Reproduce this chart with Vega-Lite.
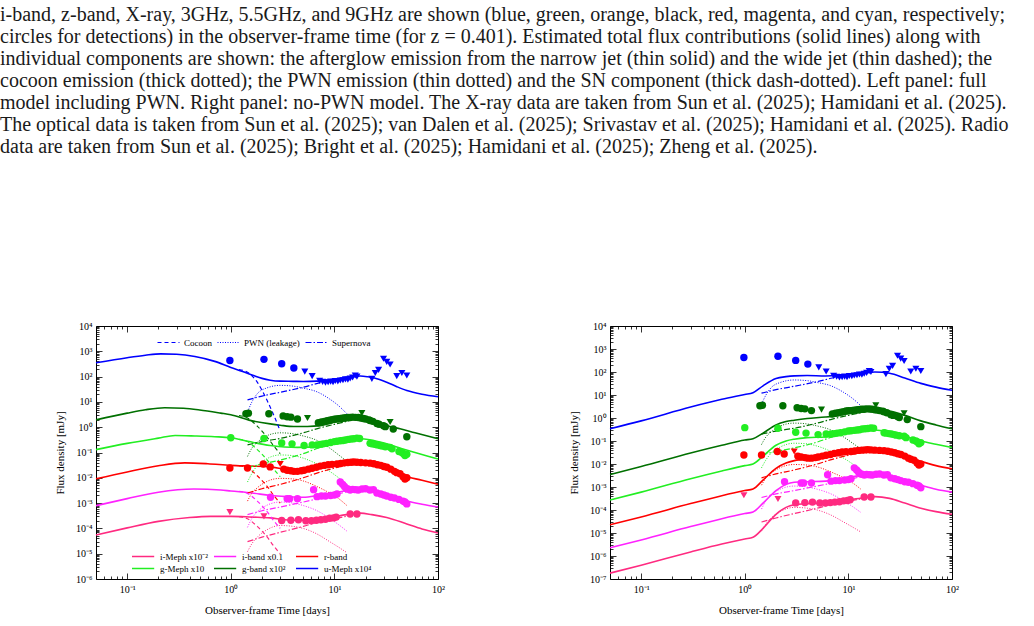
{
"$schema": "https://vega.github.io/schema/vega-lite/v6.json",
"background": "white",
"padding": {"left": 0, "top": 4, "right": 0, "bottom": 0},
"autosize": {"type": "pad"},
"title": {
 "text": [
  "i-band, z-band, X-ray, 3GHz, 5.5GHz, and 9GHz are shown (blue, green, orange, black, red, magenta, and cyan, respectively;",
  "circles for detections) in the observer-frame time (for z = 0.401). Estimated total flux contributions (solid lines) along with",
  "individual components are shown: the afterglow emission from the narrow jet (thin solid) and the wide jet (thin dashed); the",
  "cocoon emission (thick dotted); the PWN emission (thin dotted) and the SN component (thick dash-dotted). Left panel: full",
  "model including PWN. Right panel: no-PWN model. The X-ray data are taken from Sun et al. (2025); Hamidani et al. (2025).",
  "The optical data is taken from Sun et al. (2025); van Dalen et al. (2025); Srivastav et al. (2025); Hamidani et al. (2025). Radio",
  "data are taken from Sun et al. (2025); Bright et al. (2025); Hamidani et al. (2025); Zheng et al. (2025)."
 ],
 "anchor": "start", "frame": "bounds", "font": "Liberation Serif", "fontSize": 20, "fontWeight": "normal",
 "lineHeight": 22, "color": "#1a1a1a", "offset": 164, "dx": -54
},
"datasets": {
 "det": [
  {"t":0.98,"f":430,"b":"um"},{"t":2.09,"f":480,"b":"um"},{"t":3.1,"f":320,"b":"um"},{"t":4.06,"f":220,"b":"um"},
  {"t":1.40,"f":3.4,"b":"gb"},{"t":1.48,"f":3.6,"b":"gb"},{"t":2.33,"f":3.4,"b":"gb"},{"t":3.2,"f":2.8,"b":"gb"},{"t":3.5,"f":2.6,"b":"gb"},{"t":3.8,"f":2.5,"b":"gb"},{"t":4.4,"f":2.1,"b":"gb"},
  {"t":7.0,"f":1.5,"b":"gb"},{"t":7.5,"f":1.6,"b":"gb"},{"t":8.0,"f":1.7,"b":"gb"},{"t":8.5,"f":1.8,"b":"gb"},{"t":9.0,"f":1.9,"b":"gb"},{"t":9.5,"f":2.0,"b":"gb"},{"t":10,"f":2.05,"b":"gb"},{"t":10.5,"f":2.1,"b":"gb"},{"t":11,"f":2.15,"b":"gb"},{"t":11.5,"f":2.2,"b":"gb"},{"t":12,"f":2.25,"b":"gb"},{"t":12.5,"f":2.3,"b":"gb"},{"t":13,"f":2.35,"b":"gb"},{"t":13.5,"f":2.4,"b":"gb"},{"t":14.2,"f":2.4,"b":"gb"},{"t":15,"f":2.5,"b":"gb"},{"t":16,"f":2.45,"b":"gb"},{"t":17,"f":2.4,"b":"gb"},{"t":18,"f":2.3,"b":"gb"},{"t":19,"f":2.2,"b":"gb"},{"t":20,"f":2.1,"b":"gb"},{"t":21.5,"f":1.95,"b":"gb"},{"t":22.1,"f":1.85,"b":"gb"},{"t":23.5,"f":1.7,"b":"gb"},{"t":25.7,"f":1.4,"b":"gb"},{"t":27,"f":1.3,"b":"gb"},{"t":29.8,"f":1.15,"b":"gb"},{"t":31,"f":1.05,"b":"gb"},{"t":37,"f":0.85,"b":"gb"},{"t":50,"f":0.42,"b":"gb"},
  {"t":1.0,"f":0.38,"b":"gm"},{"t":2.09,"f":0.36,"b":"gm"},{"t":3.1,"f":0.24,"b":"gm"},{"t":3.9,"f":0.22,"b":"gm"},{"t":5.1,"f":0.19,"b":"gm"},{"t":6.1,"f":0.2,"b":"gm"},{"t":6.8,"f":0.2,"b":"gm"},{"t":7.3,"f":0.21,"b":"gm"},{"t":7.8,"f":0.22,"b":"gm"},{"t":8.4,"f":0.23,"b":"gm"},{"t":9.2,"f":0.25,"b":"gm"},{"t":10,"f":0.27,"b":"gm"},{"t":10.6,"f":0.28,"b":"gm"},{"t":11.4,"f":0.29,"b":"gm"},{"t":12.1,"f":0.3,"b":"gm"},{"t":12.8,"f":0.31,"b":"gm"},{"t":13.6,"f":0.33,"b":"gm"},{"t":14.5,"f":0.34,"b":"gm"},{"t":15.4,"f":0.35,"b":"gm"},{"t":16.5,"f":0.37,"b":"gm"},{"t":17.5,"f":0.36,"b":"gm"},{"t":22.1,"f":0.23,"b":"gm"},{"t":23,"f":0.22,"b":"gm"},{"t":24.5,"f":0.21,"b":"gm"},{"t":26,"f":0.2,"b":"gm"},{"t":27.6,"f":0.19,"b":"gm"},{"t":29,"f":0.18,"b":"gm"},{"t":31,"f":0.17,"b":"gm"},{"t":34.5,"f":0.16,"b":"gm"},{"t":36,"f":0.14,"b":"gm"},{"t":42,"f":0.11,"b":"gm"},{"t":44.8,"f":0.1,"b":"gm"},{"t":46.5,"f":0.09,"b":"gm"},{"t":48,"f":0.076,"b":"gm"},{"t":50,"f":0.085,"b":"gm"},
  {"t":0.98,"f":0.0245,"b":"r"},{"t":1.45,"f":0.0245,"b":"r"},{"t":2.06,"f":0.035,"b":"r"},{"t":2.4,"f":0.027,"b":"r"},{"t":3.25,"f":0.022,"b":"r"},{"t":3.5,"f":0.02,"b":"r"},{"t":3.8,"f":0.019,"b":"r"},{"t":4.06,"f":0.018,"b":"r"},{"t":4.4,"f":0.018,"b":"r"},{"t":4.8,"f":0.019,"b":"r"},{"t":5.1,"f":0.02,"b":"r"},{"t":5.6,"f":0.022,"b":"r"},{"t":6.1,"f":0.024,"b":"r"},{"t":6.7,"f":0.026,"b":"r"},{"t":7.3,"f":0.029,"b":"r"},{"t":8,"f":0.031,"b":"r"},{"t":8.7,"f":0.033,"b":"r"},{"t":9.5,"f":0.034,"b":"r"},{"t":10.6,"f":0.035,"b":"r"},{"t":11.5,"f":0.037,"b":"r"},{"t":12.5,"f":0.039,"b":"r"},{"t":13.5,"f":0.04,"b":"r"},{"t":14.5,"f":0.041,"b":"r"},{"t":15.4,"f":0.042,"b":"r"},{"t":16.5,"f":0.041,"b":"r"},{"t":18,"f":0.04,"b":"r"},{"t":20,"f":0.039,"b":"r"},{"t":22.1,"f":0.038,"b":"r"},{"t":24,"f":0.036,"b":"r"},{"t":26,"f":0.033,"b":"r"},{"t":28,"f":0.031,"b":"r"},{"t":30,"f":0.028,"b":"r"},{"t":32.1,"f":0.026,"b":"r"},{"t":35,"f":0.022,"b":"r"},{"t":38,"f":0.018,"b":"r"},{"t":40,"f":0.016,"b":"r"},{"t":43,"f":0.0145,"b":"r"},{"t":46,"f":0.011,"b":"r"},{"t":48,"f":0.009,"b":"r"},{"t":50,"f":0.01,"b":"r"},
  {"t":2.42,"f":0.0017,"b":"ib"},{"t":3.5,"f":0.0015,"b":"ib"},{"t":3.7,"f":0.0015,"b":"ib"},{"t":4.4,"f":0.0015,"b":"ib"},{"t":6.3,"f":0.0034,"b":"ib"},{"t":6.8,"f":0.0018,"b":"ib"},{"t":7.5,"f":0.0019,"b":"ib"},{"t":8.2,"f":0.0019,"b":"ib"},{"t":9.2,"f":0.002,"b":"ib"},{"t":10,"f":0.0021,"b":"ib"},{"t":10.6,"f":0.0023,"b":"ib"},{"t":11.4,"f":0.0068,"b":"ib"},{"t":12,"f":0.0055,"b":"ib"},{"t":12.5,"f":0.0045,"b":"ib"},{"t":13,"f":0.0038,"b":"ib"},{"t":13.5,"f":0.0036,"b":"ib"},{"t":14.2,"f":0.0033,"b":"ib"},{"t":15,"f":0.0035,"b":"ib"},{"t":16,"f":0.0034,"b":"ib"},{"t":17,"f":0.0033,"b":"ib"},{"t":18.5,"f":0.0036,"b":"ib"},{"t":20,"f":0.0037,"b":"ib"},{"t":22,"f":0.0033,"b":"ib"},{"t":23.8,"f":0.0034,"b":"ib"},{"t":25.7,"f":0.0025,"b":"ib"},{"t":28,"f":0.0023,"b":"ib"},{"t":30,"f":0.0021,"b":"ib"},{"t":32,"f":0.0019,"b":"ib"},{"t":35,"f":0.0017,"b":"ib"},{"t":38,"f":0.0016,"b":"ib"},{"t":42,"f":0.0014,"b":"ib"},{"t":46,"f":0.0012,"b":"ib"},{"t":48,"f":0.0011,"b":"ib"},{"t":50,"f":0.00093,"b":"ib"},
  {"t":3.1,"f":0.000204,"b":"im"},{"t":3.8,"f":0.00021,"b":"im"},{"t":4.5,"f":0.00022,"b":"im"},{"t":5.3,"f":0.0002,"b":"im"},{"t":6.0,"f":0.0002,"b":"im"},{"t":6.7,"f":0.00021,"b":"im"},{"t":7.4,"f":0.00022,"b":"im"},{"t":8.2,"f":0.00023,"b":"im"},{"t":9.0,"f":0.00025,"b":"im"},{"t":9.8,"f":0.00026,"b":"im"},{"t":10.4,"f":0.00028,"b":"im"},{"t":14.2,"f":0.00037,"b":"im"},{"t":16.5,"f":0.00037,"b":"im"}
 ],
 "ul": [
  {"t":5.18,"f":158,"b":"um"},{"t":6.1,"f":105,"b":"um"},{"t":7.2,"f":68,"b":"um"},{"t":7.7,"f":62,"b":"um"},{"t":8.2,"f":58,"b":"um"},{"t":8.7,"f":60,"b":"um"},{"t":9.2,"f":63,"b":"um"},{"t":9.7,"f":60,"b":"um"},{"t":10.2,"f":67,"b":"um"},{"t":10.8,"f":65,"b":"um"},{"t":11.4,"f":70,"b":"um"},{"t":12.1,"f":72,"b":"um"},{"t":12.8,"f":78,"b":"um"},{"t":13.5,"f":76,"b":"um"},{"t":14.2,"f":84,"b":"um"},{"t":15.0,"f":92,"b":"um"},{"t":15.9,"f":110,"b":"um"},{"t":16.5,"f":100,"b":"um"},{"t":23,"f":81,"b":"um"},{"t":24.8,"f":138,"b":"um"},{"t":26.7,"f":185,"b":"um"},{"t":29.8,"f":510,"b":"um"},{"t":32,"f":380,"b":"um"},{"t":34.5,"f":300,"b":"um"},{"t":40,"f":105,"b":"um"},{"t":44.8,"f":138,"b":"um"},{"t":50,"f":110,"b":"um"},
  {"t":5.5,"f":2.3,"b":"gb"},{"t":18.4,"f":3.6,"b":"gb"},{"t":34.5,"f":1.6,"b":"gb"},
  {"t":3.0,"f":0.035,"b":"r"},
  {"t":0.98,"f":0.00044,"b":"im"},{"t":2.09,"f":0.0003,"b":"im"}
 ],
 "totL": [
  {"t":0.05,"f":350,"b":"um"},{"t":0.1,"f":560,"b":"um"},{"t":0.15,"f":700,"b":"um"},{"t":0.21,"f":790,"b":"um"},{"t":0.3,"f":760,"b":"um"},{"t":0.45,"f":620,"b":"um"},{"t":0.7,"f":400,"b":"um"},{"t":1.0,"f":230,"b":"um"},{"t":1.3,"f":160,"b":"um"},{"t":1.66,"f":110,"b":"um"},{"t":2.0,"f":85,"b":"um"},{"t":2.4,"f":72,"b":"um"},{"t":3,"f":66,"b":"um"},{"t":4,"f":65,"b":"um"},{"t":5,"f":64,"b":"um"},{"t":6.8,"f":66,"b":"um"},{"t":9,"f":75,"b":"um"},{"t":12,"f":88,"b":"um"},{"t":15,"f":100,"b":"um"},{"t":17.8,"f":105,"b":"um"},{"t":21,"f":98,"b":"um"},{"t":25.7,"f":83,"b":"um"},{"t":32,"f":60,"b":"um"},{"t":40,"f":40,"b":"um"},{"t":50,"f":28,"b":"um"},{"t":70,"f":20,"b":"um"},{"t":100,"f":16,"b":"um"},
  {"t":0.05,"f":1.95,"b":"gb"},{"t":0.1,"f":3.6,"b":"gb"},{"t":0.15,"f":4.9,"b":"gb"},{"t":0.23,"f":5.9,"b":"gb"},{"t":0.35,"f":5.6,"b":"gb"},{"t":0.5,"f":4.8,"b":"gb"},{"t":0.8,"f":3.6,"b":"gb"},{"t":1.0,"f":3.1,"b":"gb"},{"t":1.5,"f":1.9,"b":"gb"},{"t":2.4,"f":1.35,"b":"gb"},{"t":3,"f":1.2,"b":"gb"},{"t":4.06,"f":1.07,"b":"gb"},{"t":5.5,"f":1.07,"b":"gb"},{"t":7.3,"f":1.15,"b":"gb"},{"t":9,"f":1.4,"b":"gb"},{"t":11,"f":1.8,"b":"gb"},{"t":14,"f":2.3,"b":"gb"},{"t":17,"f":2.45,"b":"gb"},{"t":21,"f":2.1,"b":"gb"},{"t":27,"f":1.5,"b":"gb"},{"t":35,"f":1.05,"b":"gb"},{"t":43,"f":0.87,"b":"gb"},{"t":60,"f":0.6,"b":"gb"},{"t":100,"f":0.35,"b":"gb"},
  {"t":0.05,"f":0.13,"b":"gm"},{"t":0.1,"f":0.23,"b":"gm"},{"t":0.2,"f":0.37,"b":"gm"},{"t":0.29,"f":0.47,"b":"gm"},{"t":0.45,"f":0.45,"b":"gm"},{"t":0.7,"f":0.42,"b":"gm"},{"t":1.0,"f":0.38,"b":"gm"},{"t":1.5,"f":0.27,"b":"gm"},{"t":2.4,"f":0.19,"b":"gm"},{"t":3.3,"f":0.165,"b":"gm"},{"t":4.4,"f":0.16,"b":"gm"},{"t":7.3,"f":0.17,"b":"gm"},{"t":10,"f":0.22,"b":"gm"},{"t":14,"f":0.3,"b":"gm"},{"t":17.8,"f":0.35,"b":"gm"},{"t":22,"f":0.32,"b":"gm"},{"t":32,"f":0.22,"b":"gm"},{"t":45,"f":0.14,"b":"gm"},{"t":60,"f":0.1,"b":"gm"},{"t":100,"f":0.055,"b":"gm"},
  {"t":0.05,"f":0.0091,"b":"r"},{"t":0.1,"f":0.017,"b":"r"},{"t":0.2,"f":0.03,"b":"r"},{"t":0.36,"f":0.039,"b":"r"},{"t":0.6,"f":0.036,"b":"r"},{"t":1.0,"f":0.031,"b":"r"},{"t":1.5,"f":0.029,"b":"r"},{"t":2.4,"f":0.027,"b":"r"},{"t":3.3,"f":0.022,"b":"r"},{"t":4.4,"f":0.019,"b":"r"},{"t":5.5,"f":0.02,"b":"r"},{"t":7.3,"f":0.024,"b":"r"},{"t":10,"f":0.031,"b":"r"},{"t":14,"f":0.039,"b":"r"},{"t":17.8,"f":0.042,"b":"r"},{"t":23,"f":0.037,"b":"r"},{"t":32,"f":0.025,"b":"r"},{"t":46,"f":0.0123,"b":"r"},{"t":70,"f":0.008,"b":"r"},{"t":100,"f":0.0056,"b":"r"},
  {"t":0.05,"f":0.00079,"b":"ib"},{"t":0.1,"f":0.0015,"b":"ib"},{"t":0.2,"f":0.0027,"b":"ib"},{"t":0.44,"f":0.0036,"b":"ib"},{"t":0.8,"f":0.0033,"b":"ib"},{"t":1.0,"f":0.003,"b":"ib"},{"t":1.6,"f":0.0025,"b":"ib"},{"t":2.4,"f":0.002,"b":"ib"},{"t":3.5,"f":0.0018,"b":"ib"},{"t":5,"f":0.0017,"b":"ib"},{"t":7,"f":0.002,"b":"ib"},{"t":10.6,"f":0.0027,"b":"ib"},{"t":14,"f":0.0032,"b":"ib"},{"t":17.8,"f":0.0034,"b":"ib"},{"t":23,"f":0.0029,"b":"ib"},{"t":32,"f":0.0022,"b":"ib"},{"t":50,"f":0.0012,"b":"ib"},{"t":70,"f":0.0009,"b":"ib"},{"t":100,"f":0.0007,"b":"ib"},
  {"t":0.05,"f":5.5e-5,"b":"im"},{"t":0.1,"f":1.05e-4,"b":"im"},{"t":0.2,"f":1.9e-4,"b":"im"},{"t":0.4,"f":2.7e-4,"b":"im"},{"t":0.64,"f":3e-4,"b":"im"},{"t":1.0,"f":3e-4,"b":"im"},{"t":1.6,"f":2.8e-4,"b":"im"},{"t":2.4,"f":2.6e-4,"b":"im"},{"t":3.3,"f":2.2e-4,"b":"im"},{"t":4.4,"f":2.1e-4,"b":"im"},{"t":6,"f":2.2e-4,"b":"im"},{"t":9.2,"f":2.7e-4,"b":"im"},{"t":13,"f":3.5e-4,"b":"im"},{"t":17.8,"f":4.0e-4,"b":"im"},{"t":23,"f":3.5e-4,"b":"im"},{"t":32,"f":2.7e-4,"b":"im"},{"t":50,"f":1.5e-4,"b":"im"},{"t":70,"f":9.5e-5,"b":"im"},{"t":100,"f":6.6e-5,"b":"im"}
 ],
 "totR": [
  {"t":0.05,"f":0.34,"b":"um"},{"t":0.1,"f":0.75,"b":"um"},{"t":0.3,"f":3.0,"b":"um"},{"t":0.6,"f":6.5,"b":"um"},{"t":1.0,"f":10.5,"b":"um"},{"t":1.2,"f":12.5,"b":"um"},{"t":1.5,"f":25,"b":"um"},{"t":2.0,"f":52,"b":"um"},{"t":2.5,"f":63,"b":"um"},{"t":3,"f":68,"b":"um"},{"t":4,"f":70,"b":"um"},{"t":6,"f":67,"b":"um"},{"t":8,"f":70,"b":"um"},{"t":10,"f":76,"b":"um"},{"t":14,"f":90,"b":"um"},{"t":18,"f":100,"b":"um"},{"t":25,"f":88,"b":"um"},{"t":35,"f":55,"b":"um"},{"t":50,"f":32,"b":"um"},{"t":70,"f":22,"b":"um"},{"t":100,"f":16,"b":"um"},
  {"t":0.05,"f":0.0035,"b":"gb"},{"t":0.1,"f":0.0078,"b":"gb"},{"t":0.3,"f":0.03,"b":"gb"},{"t":0.6,"f":0.065,"b":"gb"},{"t":1.0,"f":0.11,"b":"gb"},{"t":1.2,"f":0.125,"b":"gb"},{"t":1.5,"f":0.22,"b":"gb"},{"t":2.0,"f":0.5,"b":"gb"},{"t":2.5,"f":0.7,"b":"gb"},{"t":3,"f":0.8,"b":"gb"},{"t":4,"f":0.95,"b":"gb"},{"t":6,"f":1.1,"b":"gb"},{"t":8,"f":1.3,"b":"gb"},{"t":10,"f":1.6,"b":"gb"},{"t":14,"f":2.2,"b":"gb"},{"t":18,"f":2.4,"b":"gb"},{"t":25,"f":2.0,"b":"gb"},{"t":35,"f":1.3,"b":"gb"},{"t":50,"f":0.75,"b":"gb"},{"t":70,"f":0.5,"b":"gb"},{"t":100,"f":0.34,"b":"gb"},
  {"t":0.05,"f":0.00027,"b":"gm"},{"t":0.1,"f":0.0006,"b":"gm"},{"t":0.3,"f":0.0023,"b":"gm"},{"t":0.6,"f":0.005,"b":"gm"},{"t":1.0,"f":0.0085,"b":"gm"},{"t":1.2,"f":0.01,"b":"gm"},{"t":1.5,"f":0.022,"b":"gm"},{"t":2.0,"f":0.065,"b":"gm"},{"t":2.5,"f":0.1,"b":"gm"},{"t":3,"f":0.12,"b":"gm"},{"t":4,"f":0.14,"b":"gm"},{"t":6,"f":0.15,"b":"gm"},{"t":8,"f":0.18,"b":"gm"},{"t":10,"f":0.22,"b":"gm"},{"t":14,"f":0.28,"b":"gm"},{"t":18,"f":0.3,"b":"gm"},{"t":25,"f":0.24,"b":"gm"},{"t":35,"f":0.16,"b":"gm"},{"t":50,"f":0.1,"b":"gm"},{"t":70,"f":0.072,"b":"gm"},{"t":100,"f":0.052,"b":"gm"},
  {"t":0.05,"f":2.3e-5,"b":"r"},{"t":0.1,"f":5e-5,"b":"r"},{"t":0.3,"f":1.9e-4,"b":"r"},{"t":0.6,"f":4.2e-4,"b":"r"},{"t":1.0,"f":7e-4,"b":"r"},{"t":1.2,"f":8.2e-4,"b":"r"},{"t":1.5,"f":0.002,"b":"r"},{"t":2.0,"f":0.0065,"b":"r"},{"t":2.5,"f":0.011,"b":"r"},{"t":3,"f":0.014,"b":"r"},{"t":4,"f":0.017,"b":"r"},{"t":6,"f":0.019,"b":"r"},{"t":8,"f":0.024,"b":"r"},{"t":10,"f":0.03,"b":"r"},{"t":14,"f":0.038,"b":"r"},{"t":18,"f":0.042,"b":"r"},{"t":25,"f":0.035,"b":"r"},{"t":35,"f":0.022,"b":"r"},{"t":50,"f":0.013,"b":"r"},{"t":70,"f":0.0085,"b":"r"},{"t":100,"f":0.0062,"b":"r"},
  {"t":0.05,"f":2.3e-6,"b":"ib"},{"t":0.1,"f":5e-6,"b":"ib"},{"t":0.3,"f":1.9e-5,"b":"ib"},{"t":0.6,"f":4.2e-5,"b":"ib"},{"t":1.0,"f":7e-5,"b":"ib"},{"t":1.2,"f":8.2e-5,"b":"ib"},{"t":1.5,"f":2e-4,"b":"ib"},{"t":2.0,"f":7e-4,"b":"ib"},{"t":2.5,"f":0.0013,"b":"ib"},{"t":3,"f":0.0016,"b":"ib"},{"t":4,"f":0.0017,"b":"ib"},{"t":6,"f":0.0018,"b":"ib"},{"t":8,"f":0.0021,"b":"ib"},{"t":10,"f":0.0026,"b":"ib"},{"t":14,"f":0.0032,"b":"ib"},{"t":18,"f":0.0034,"b":"ib"},{"t":25,"f":0.0028,"b":"ib"},{"t":35,"f":0.0019,"b":"ib"},{"t":50,"f":0.0012,"b":"ib"},{"t":70,"f":0.0008,"b":"ib"},{"t":100,"f":0.0006,"b":"ib"},
  {"t":0.05,"f":1.8e-7,"b":"im"},{"t":0.1,"f":4e-7,"b":"im"},{"t":0.3,"f":1.5e-6,"b":"im"},{"t":0.6,"f":3.3e-6,"b":"im"},{"t":1.0,"f":5.5e-6,"b":"im"},{"t":1.2,"f":6.5e-6,"b":"im"},{"t":1.5,"f":1.6e-5,"b":"im"},{"t":2.0,"f":6.5e-5,"b":"im"},{"t":2.5,"f":1.3e-4,"b":"im"},{"t":3,"f":1.7e-4,"b":"im"},{"t":4,"f":1.9e-4,"b":"im"},{"t":6,"f":2e-4,"b":"im"},{"t":8,"f":2.3e-4,"b":"im"},{"t":10,"f":2.7e-4,"b":"im"},{"t":14,"f":3.4e-4,"b":"im"},{"t":18,"f":3.8e-4,"b":"im"},{"t":25,"f":3.2e-4,"b":"im"},{"t":35,"f":2e-4,"b":"im"},{"t":50,"f":1.2e-4,"b":"im"},{"t":70,"f":8.5e-5,"b":"im"},{"t":100,"f":6.5e-5,"b":"im"}
 ],
 "comp": [
  {"t":1.45,"f":4,"b":"um","c":"PWN (leakage)"},{"t":1.6,"f":10,"b":"um","c":"PWN (leakage)"},{"t":1.8,"f":21,"b":"um","c":"PWN (leakage)"},{"t":2.2,"f":35,"b":"um","c":"PWN (leakage)"},{"t":3.0,"f":45,"b":"um","c":"PWN (leakage)"},{"t":4,"f":42,"b":"um","c":"PWN (leakage)"},{"t":5,"f":35,"b":"um","c":"PWN (leakage)"},{"t":6.8,"f":25,"b":"um","c":"PWN (leakage)"},{"t":9,"f":13,"b":"um","c":"PWN (leakage)"},{"t":11,"f":7,"b":"um","c":"PWN (leakage)"},{"t":13.2,"f":3.4,"b":"um","c":"PWN (leakage)"},
  {"t":1.45,"f":0.07,"b":"gb","c":"PWN (leakage)"},{"t":1.6,"f":0.15,"b":"gb","c":"PWN (leakage)"},{"t":1.8,"f":0.25,"b":"gb","c":"PWN (leakage)"},{"t":2.2,"f":0.45,"b":"gb","c":"PWN (leakage)"},{"t":3.0,"f":0.6,"b":"gb","c":"PWN (leakage)"},{"t":4,"f":0.55,"b":"gb","c":"PWN (leakage)"},{"t":5,"f":0.45,"b":"gb","c":"PWN (leakage)"},{"t":6.8,"f":0.3,"b":"gb","c":"PWN (leakage)"},{"t":9,"f":0.15,"b":"gb","c":"PWN (leakage)"},{"t":11,"f":0.08,"b":"gb","c":"PWN (leakage)"},{"t":13.2,"f":0.045,"b":"gb","c":"PWN (leakage)"},
  {"t":1.45,"f":0.0068,"b":"gm","c":"PWN (leakage)"},{"t":1.6,"f":0.015,"b":"gm","c":"PWN (leakage)"},{"t":1.8,"f":0.03,"b":"gm","c":"PWN (leakage)"},{"t":2.2,"f":0.055,"b":"gm","c":"PWN (leakage)"},{"t":3.0,"f":0.08,"b":"gm","c":"PWN (leakage)"},{"t":4,"f":0.075,"b":"gm","c":"PWN (leakage)"},{"t":5,"f":0.06,"b":"gm","c":"PWN (leakage)"},{"t":6.8,"f":0.035,"b":"gm","c":"PWN (leakage)"},{"t":9,"f":0.018,"b":"gm","c":"PWN (leakage)"},{"t":11,"f":0.01,"b":"gm","c":"PWN (leakage)"},{"t":13.2,"f":0.0055,"b":"gm","c":"PWN (leakage)"},
  {"t":1.45,"f":0.0012,"b":"r","c":"PWN (leakage)"},{"t":1.6,"f":0.0025,"b":"r","c":"PWN (leakage)"},{"t":1.8,"f":0.004,"b":"r","c":"PWN (leakage)"},{"t":2.2,"f":0.007,"b":"r","c":"PWN (leakage)"},{"t":3.0,"f":0.0095,"b":"r","c":"PWN (leakage)"},{"t":4,"f":0.009,"b":"r","c":"PWN (leakage)"},{"t":5,"f":0.0075,"b":"r","c":"PWN (leakage)"},{"t":6.8,"f":0.0045,"b":"r","c":"PWN (leakage)"},{"t":9,"f":0.0025,"b":"r","c":"PWN (leakage)"},{"t":11,"f":0.0015,"b":"r","c":"PWN (leakage)"},{"t":13.2,"f":0.0008,"b":"r","c":"PWN (leakage)"},
  {"t":1.45,"f":0.00011,"b":"ib","c":"PWN (leakage)"},{"t":1.6,"f":0.00025,"b":"ib","c":"PWN (leakage)"},{"t":1.8,"f":0.00045,"b":"ib","c":"PWN (leakage)"},{"t":2.2,"f":0.0008,"b":"ib","c":"PWN (leakage)"},{"t":3.0,"f":0.0011,"b":"ib","c":"PWN (leakage)"},{"t":4,"f":0.001,"b":"ib","c":"PWN (leakage)"},{"t":5,"f":0.0008,"b":"ib","c":"PWN (leakage)"},{"t":6.8,"f":0.0005,"b":"ib","c":"PWN (leakage)"},{"t":9,"f":0.00025,"b":"ib","c":"PWN (leakage)"},{"t":11,"f":0.00014,"b":"ib","c":"PWN (leakage)"},{"t":13.2,"f":7.8e-5,"b":"ib","c":"PWN (leakage)"},
  {"t":1.45,"f":1.2e-5,"b":"im","c":"PWN (leakage)"},{"t":1.6,"f":2.5e-5,"b":"im","c":"PWN (leakage)"},{"t":1.8,"f":4.5e-5,"b":"im","c":"PWN (leakage)"},{"t":2.2,"f":8.5e-5,"b":"im","c":"PWN (leakage)"},{"t":3.0,"f":1.3e-4,"b":"im","c":"PWN (leakage)"},{"t":4,"f":1.2e-4,"b":"im","c":"PWN (leakage)"},{"t":5,"f":1e-4,"b":"im","c":"PWN (leakage)"},{"t":6.8,"f":6e-5,"b":"im","c":"PWN (leakage)"},{"t":9,"f":3e-5,"b":"im","c":"PWN (leakage)"},{"t":11,"f":1.8e-5,"b":"im","c":"PWN (leakage)"},{"t":13.2,"f":1.1e-5,"b":"im","c":"PWN (leakage)"},
  {"t":1.45,"f":12,"b":"um","c":"Supernova"},{"t":2,"f":17,"b":"um","c":"Supernova"},{"t":3,"f":24,"b":"um","c":"Supernova"},{"t":5,"f":38,"b":"um","c":"Supernova"},{"t":7,"f":55,"b":"um","c":"Supernova"},{"t":10,"f":75,"b":"um","c":"Supernova"},{"t":14,"f":95,"b":"um","c":"Supernova"},
  {"t":1.45,"f":0.2,"b":"gb","c":"Supernova"},{"t":2,"f":0.27,"b":"gb","c":"Supernova"},{"t":3,"f":0.36,"b":"gb","c":"Supernova"},{"t":5,"f":0.6,"b":"gb","c":"Supernova"},{"t":7,"f":0.9,"b":"gb","c":"Supernova"},{"t":10,"f":1.3,"b":"gb","c":"Supernova"},{"t":14,"f":1.8,"b":"gb","c":"Supernova"},
  {"t":1.45,"f":0.025,"b":"gm","c":"Supernova"},{"t":2,"f":0.035,"b":"gm","c":"Supernova"},{"t":3,"f":0.05,"b":"gm","c":"Supernova"},{"t":5,"f":0.09,"b":"gm","c":"Supernova"},{"t":7,"f":0.15,"b":"gm","c":"Supernova"},{"t":10,"f":0.22,"b":"gm","c":"Supernova"},{"t":14,"f":0.3,"b":"gm","c":"Supernova"},
  {"t":1.45,"f":0.0025,"b":"r","c":"Supernova"},{"t":2,"f":0.0037,"b":"r","c":"Supernova"},{"t":3,"f":0.0055,"b":"r","c":"Supernova"},{"t":5,"f":0.01,"b":"r","c":"Supernova"},{"t":7,"f":0.016,"b":"r","c":"Supernova"},{"t":10,"f":0.024,"b":"r","c":"Supernova"},{"t":14,"f":0.034,"b":"r","c":"Supernova"},
  {"t":1.45,"f":0.00035,"b":"ib","c":"Supernova"},{"t":2,"f":0.0005,"b":"ib","c":"Supernova"},{"t":3,"f":0.0007,"b":"ib","c":"Supernova"},{"t":5,"f":0.0011,"b":"ib","c":"Supernova"},{"t":7,"f":0.0015,"b":"ib","c":"Supernova"},{"t":10,"f":0.0021,"b":"ib","c":"Supernova"},{"t":14,"f":0.003,"b":"ib","c":"Supernova"},
  {"t":1.45,"f":3e-5,"b":"im","c":"Supernova"},{"t":2,"f":4.5e-5,"b":"im","c":"Supernova"},{"t":3,"f":7e-5,"b":"im","c":"Supernova"},{"t":5,"f":1.2e-4,"b":"im","c":"Supernova"},{"t":7,"f":1.8e-4,"b":"im","c":"Supernova"},{"t":10,"f":2.4e-4,"b":"im","c":"Supernova"},{"t":14,"f":3.2e-4,"b":"im","c":"Supernova"},
  {"t":1.2,"f":190,"b":"um","c":"Cocoon"},{"t":1.45,"f":150,"b":"um","c":"Cocoon"},{"t":1.8,"f":60,"b":"um","c":"Cocoon"},{"t":2.25,"f":11,"b":"um","c":"Cocoon"},{"t":2.6,"f":3,"b":"um","c":"Cocoon"},{"t":3.0,"f":0.7,"b":"um","c":"Cocoon"},
  {"t":1.2,"f":2.9,"b":"gb","c":"Cocoon"},{"t":1.45,"f":2.3,"b":"gb","c":"Cocoon"},{"t":1.8,"f":1.1,"b":"gb","c":"Cocoon"},{"t":2.25,"f":0.4,"b":"gb","c":"Cocoon"},{"t":2.6,"f":0.18,"b":"gb","c":"Cocoon"},{"t":3.0,"f":0.09,"b":"gb","c":"Cocoon"},
  {"t":1.2,"f":0.33,"b":"gm","c":"Cocoon"},{"t":1.45,"f":0.27,"b":"gm","c":"Cocoon"},{"t":1.8,"f":0.13,"b":"gm","c":"Cocoon"},{"t":2.25,"f":0.05,"b":"gm","c":"Cocoon"},{"t":2.6,"f":0.022,"b":"gm","c":"Cocoon"},{"t":3.0,"f":0.011,"b":"gm","c":"Cocoon"},
  {"t":1.2,"f":0.03,"b":"r","c":"Cocoon"},{"t":1.45,"f":0.025,"b":"r","c":"Cocoon"},{"t":1.8,"f":0.012,"b":"r","c":"Cocoon"},{"t":2.25,"f":0.0045,"b":"r","c":"Cocoon"},{"t":2.6,"f":0.002,"b":"r","c":"Cocoon"},{"t":3.0,"f":0.001,"b":"r","c":"Cocoon"},
  {"t":1.2,"f":0.0029,"b":"ib","c":"Cocoon"},{"t":1.45,"f":0.0024,"b":"ib","c":"Cocoon"},{"t":1.8,"f":0.0012,"b":"ib","c":"Cocoon"},{"t":2.25,"f":0.00045,"b":"ib","c":"Cocoon"},{"t":2.6,"f":0.0002,"b":"ib","c":"Cocoon"},{"t":3.0,"f":0.0001,"b":"ib","c":"Cocoon"},
  {"t":1.2,"f":0.00029,"b":"im","c":"Cocoon"},{"t":1.45,"f":0.00024,"b":"im","c":"Cocoon"},{"t":1.8,"f":0.00012,"b":"im","c":"Cocoon"},{"t":2.25,"f":4.5e-5,"b":"im","c":"Cocoon"},{"t":2.6,"f":2e-5,"b":"im","c":"Cocoon"},{"t":3.0,"f":1e-5,"b":"im","c":"Cocoon"}
 ]
},
"spacing": 123,
"hconcat": [
 {
  "width": 342, "height": 253,
  "resolve": {"axis": {"x": "independent", "y": "independent"}},
  "layer": [
   {
    "data": {"name": "totL"},
    "mark": {"type": "line", "strokeWidth": 1.6, "interpolate": "monotone"},
    "encoding": {
     "x": {"field": "t", "type": "quantitative", "scale": {"type": "log", "domain": [0.05, 100], "nice": false},
       "axis": {"orient": "bottom", "values": [0.1, 1, 10, 100], "ticks": false, "domain": false, "grid": false, "labelFlush": false, "labelPadding": 5,
         "labelExpr": "'10' + replace(replace(replace(replace(replace(replace(replace(replace(replace(''+round(log(datum.value)/LN10),'-','⁻'),'1','¹'),'2','²'),'3','³'),'4','⁴'),'5','⁵'),'6','⁶'),'7','⁷'),'0','⁰')",
         "title": "Observer-frame Time [days]", "titleY": 31, "titleBaseline": "middle"}},
     "y": {"field": "f", "type": "quantitative", "scale": {"type": "log", "domain": [1e-6, 10000], "nice": false},
       "axis": {"orient": "left", "values": [1e-6, 1e-5, 1e-4, 0.001, 0.01, 0.1, 1, 10, 100, 1000, 10000], "ticks": false, "domain": false, "grid": false, "labelFlush": false, "labelPadding": 4,
         "labelExpr": "'10' + replace(replace(replace(replace(replace(replace(replace(replace(replace(''+round(log(datum.value)/LN10),'-','⁻'),'1','¹'),'2','²'),'3','³'),'4','⁴'),'5','⁵'),'6','⁶'),'7','⁷'),'0','⁰')",
         "title": "Flux density [mJy]", "titleX": -30.5}},
     "color": {"field": "b", "type": "nominal",
       "scale": {"domain": ["im", "ib", "r", "gm", "gb", "um"], "range": ["#ff2a80", "#ff22ff", "#ff0000", "#22ee22", "#007000", "#0000ff"]},
       "legend": {"orient": "none", "legendX": 35, "legendY": 223.5, "direction": "horizontal", "columns": 3, "title": null, "symbolType": "M-1,0H2.7", "symbolSize": 144, "symbolStrokeWidth": 1.5, "symbolFillColor": "transparent", "gridAlign": "all", "columnPadding": 3, "rowPadding": 0, "labelOffset": 15,
         "labelExpr": "datum.label=='im'?'i-Meph x10⁻²':datum.label=='ib'?'i-band x0.1':datum.label=='r'?'r-band':datum.label=='gm'?'g-Meph x10':datum.label=='gb'?'g-band x10²':'u-Meph x10⁴'"}}
    }
   },
   {
    "data": {"name": "comp"},
    "transform": [{"filter": "datum.c == 'PWN (leakage)'"}],
    "mark": {"type": "line", "strokeWidth": 1, "interpolate": "monotone"},
    "encoding": {
     "x": {"field": "t", "type": "quantitative", "scale": {"type": "log", "domain": [0.05, 100], "nice": false},
       "axis": {"orient": "bottom", "values": [0.1, 1, 10, 100], "labels": false, "ticks": true, "tickSize": -6, "domain": false, "grid": false, "title": null}},
     "y": {"field": "f", "type": "quantitative", "scale": {"type": "log", "domain": [1e-6, 10000], "nice": false},
       "axis": {"orient": "left", "values": [1e-6, 1e-5, 1e-4, 0.001, 0.01, 0.1, 1, 10, 100, 1000, 10000], "labels": false, "ticks": true, "tickSize": -6, "domain": false, "grid": false, "title": null}},
     "color": {"field": "b", "type": "nominal",
       "scale": {"domain": ["im", "ib", "r", "gm", "gb", "um"], "range": ["#ff2a80", "#ff22ff", "#ff0000", "#22ee22", "#007000", "#0000ff"]},
       "legend": {"orient": "none", "legendX": 35, "legendY": 223.5, "direction": "horizontal", "columns": 3, "title": null, "symbolType": "M-1,0H2.7", "symbolSize": 144, "symbolStrokeWidth": 1.5, "symbolFillColor": "transparent", "gridAlign": "all", "columnPadding": 3, "rowPadding": 0, "labelOffset": 15,
         "labelExpr": "datum.label=='im'?'i-Meph x10⁻²':datum.label=='ib'?'i-band x0.1':datum.label=='r'?'r-band':datum.label=='gm'?'g-Meph x10':datum.label=='gb'?'g-band x10²':'u-Meph x10⁴'"}},
     "strokeDash": {"field": "c", "type": "nominal",
       "scale": {"domain": ["Cocoon", "PWN (leakage)", "Supernova"], "range": [[4, 3], [1, 1.5], [6, 2, 1.5, 2]]},
       "legend": {"orient": "none", "legendX": 61, "legendY": 5, "direction": "horizontal", "title": null, "symbolType": "stroke", "symbolSize": 484, "symbolStrokeWidth": 1, "symbolStrokeColor": "#0000ff", "gridAlign": "none", "columnPadding": 3, "labelOffset": 4}}
    }
   },
   {
    "data": {"name": "comp"},
    "transform": [{"filter": "datum.c != 'PWN (leakage)'"}],
    "mark": {"type": "line", "strokeWidth": 1.2, "interpolate": "monotone"},
    "encoding": {
     "x": {"field": "t", "type": "quantitative", "scale": {"type": "log", "domain": [0.05, 100], "nice": false},
       "axis": {"orient": "top", "values": [0.1, 1, 10, 100], "labels": false, "ticks": true, "tickSize": -6, "domain": false, "grid": false, "title": null}},
     "y": {"field": "f", "type": "quantitative", "scale": {"type": "log", "domain": [1e-6, 10000], "nice": false},
       "axis": {"orient": "right", "values": [1e-6, 1e-5, 1e-4, 0.001, 0.01, 0.1, 1, 10, 100, 1000, 10000], "labels": false, "ticks": true, "tickSize": -6, "domain": false, "grid": false, "title": null}},
     "color": {"field": "b", "type": "nominal",
       "scale": {"domain": ["im", "ib", "r", "gm", "gb", "um"], "range": ["#ff2a80", "#ff22ff", "#ff0000", "#22ee22", "#007000", "#0000ff"]},
       "legend": {"orient": "none", "legendX": 35, "legendY": 223.5, "direction": "horizontal", "columns": 3, "title": null, "symbolType": "M-1,0H2.7", "symbolSize": 144, "symbolStrokeWidth": 1.5, "symbolFillColor": "transparent", "gridAlign": "all", "columnPadding": 3, "rowPadding": 0, "labelOffset": 15,
         "labelExpr": "datum.label=='im'?'i-Meph x10⁻²':datum.label=='ib'?'i-band x0.1':datum.label=='r'?'r-band':datum.label=='gm'?'g-Meph x10':datum.label=='gb'?'g-band x10²':'u-Meph x10⁴'"}},
     "strokeDash": {"field": "c", "type": "nominal",
       "scale": {"domain": ["Cocoon", "PWN (leakage)", "Supernova"], "range": [[4, 3], [1, 1.5], [6, 2, 1.5, 2]]},
       "legend": {"orient": "none", "legendX": 61, "legendY": 5, "direction": "horizontal", "title": null, "symbolType": "stroke", "symbolSize": 484, "symbolStrokeWidth": 1, "symbolStrokeColor": "#0000ff", "gridAlign": "none", "columnPadding": 3, "labelOffset": 4}}
    }
   },
   {
    "data": {"name": "det"},
    "mark": {"type": "point", "shape": "circle", "filled": true, "size": 55, "opacity": 1, "strokeWidth": 0},
    "encoding": {
     "x": {"field": "t", "type": "quantitative", "scale": {"type": "log", "domain": [0.05, 100], "nice": false},
       "axis": {"orient": "bottom", "values": [0.06,0.07,0.08,0.09,0.2,0.3,0.4,0.5,0.6,0.7,0.8,0.9,2,3,4,5,6,7,8,9,20,30,40,50,60,70,80,90], "labels": false, "ticks": true, "tickSize": -3, "domain": false, "grid": false, "title": null}},
     "y": {"field": "f", "type": "quantitative", "scale": {"type": "log", "domain": [1e-6, 10000], "nice": false},
       "axis": {"orient": "left", "values": [2e-6,3e-6,4e-6,5e-6,6e-6,7e-6,8e-6,9e-6,2e-5,3e-5,4e-5,5e-5,6e-5,7e-5,8e-5,9e-5,2e-4,3e-4,4e-4,5e-4,6e-4,7e-4,8e-4,9e-4,0.002,0.003,0.004,0.005,0.006,0.007,0.008,0.009,0.02,0.03,0.04,0.05,0.06,0.07,0.08,0.09,0.2,0.3,0.4,0.5,0.6,0.7,0.8,0.9,2,3,4,5,6,7,8,9,20,30,40,50,60,70,80,90,200,300,400,500,600,700,800,900,2000,3000,4000,5000,6000,7000,8000,9000], "labels": false, "ticks": true, "tickSize": -3, "domain": false, "grid": false, "title": null}},
     "fill": {"field": "b", "type": "nominal",
       "scale": {"domain": ["im", "ib", "r", "gm", "gb", "um"], "range": ["#ff2a80", "#ff22ff", "#ff0000", "#22ee22", "#007000", "#0000ff"]}, "legend": null}
    }
   },
   {
    "data": {"name": "ul"},
    "mark": {"type": "point", "shape": "triangle-down", "filled": true, "size": 50, "opacity": 1, "strokeWidth": 0},
    "encoding": {
     "x": {"field": "t", "type": "quantitative", "scale": {"type": "log", "domain": [0.05, 100], "nice": false},
       "axis": {"orient": "top", "values": [0.06,0.07,0.08,0.09,0.2,0.3,0.4,0.5,0.6,0.7,0.8,0.9,2,3,4,5,6,7,8,9,20,30,40,50,60,70,80,90], "labels": false, "ticks": true, "tickSize": -3, "domain": false, "grid": false, "title": null}},
     "y": {"field": "f", "type": "quantitative", "scale": {"type": "log", "domain": [1e-6, 10000], "nice": false},
       "axis": {"orient": "right", "values": [2e-6,3e-6,4e-6,5e-6,6e-6,7e-6,8e-6,9e-6,2e-5,3e-5,4e-5,5e-5,6e-5,7e-5,8e-5,9e-5,2e-4,3e-4,4e-4,5e-4,6e-4,7e-4,8e-4,9e-4,0.002,0.003,0.004,0.005,0.006,0.007,0.008,0.009,0.02,0.03,0.04,0.05,0.06,0.07,0.08,0.09,0.2,0.3,0.4,0.5,0.6,0.7,0.8,0.9,2,3,4,5,6,7,8,9,20,30,40,50,60,70,80,90,200,300,400,500,600,700,800,900,2000,3000,4000,5000,6000,7000,8000,9000], "labels": false, "ticks": true, "tickSize": -3, "domain": false, "grid": false, "title": null}},
     "fill": {"field": "b", "type": "nominal",
       "scale": {"domain": ["im", "ib", "r", "gm", "gb", "um"], "range": ["#ff2a80", "#ff22ff", "#ff0000", "#22ee22", "#007000", "#0000ff"]}, "legend": null}
    }
   }
  ]
 },
 {
  "width": 342, "height": 253,
  "resolve": {"axis": {"x": "independent", "y": "independent"}},
  "layer": [
   {
    "data": {"name": "totR"},
    "mark": {"type": "line", "strokeWidth": 1.6, "interpolate": "monotone"},
    "encoding": {
     "x": {"field": "t", "type": "quantitative", "scale": {"type": "log", "domain": [0.05, 100], "nice": false},
       "axis": {"orient": "bottom", "values": [0.1, 1, 10, 100], "ticks": false, "domain": false, "grid": false, "labelFlush": false, "labelPadding": 5,
         "labelExpr": "'10' + replace(replace(replace(replace(replace(replace(replace(replace(replace(''+round(log(datum.value)/LN10),'-','⁻'),'1','¹'),'2','²'),'3','³'),'4','⁴'),'5','⁵'),'6','⁶'),'7','⁷'),'0','⁰')",
         "title": "Observer-frame Time [days]", "titleY": 31, "titleBaseline": "middle"}},
     "y": {"field": "f", "type": "quantitative", "scale": {"type": "log", "domain": [1e-7, 10000], "nice": false},
       "axis": {"orient": "left", "values": [1e-7, 1e-6, 1e-5, 1e-4, 0.001, 0.01, 0.1, 1, 10, 100, 1000, 10000], "ticks": false, "domain": false, "grid": false, "labelFlush": false, "labelPadding": 4,
         "labelExpr": "'10' + replace(replace(replace(replace(replace(replace(replace(replace(replace(''+round(log(datum.value)/LN10),'-','⁻'),'1','¹'),'2','²'),'3','³'),'4','⁴'),'5','⁵'),'6','⁶'),'7','⁷'),'0','⁰')",
         "title": "Flux density [mJy]", "titleX": -30.5}},
     "color": {"field": "b", "type": "nominal",
       "scale": {"domain": ["im", "ib", "r", "gm", "gb", "um"], "range": ["#ff2a80", "#ff22ff", "#ff0000", "#22ee22", "#007000", "#0000ff"]},
       "legend": {"orient": "none", "legendX": 102, "legendY": 223.5, "direction": "horizontal", "columns": 3, "title": null, "symbolType": "M-1,0H2.7", "symbolSize": 144, "symbolStrokeWidth": 1.5, "symbolFillColor": "transparent", "gridAlign": "all", "columnPadding": 3, "rowPadding": 1, "labelOffset": 15,
         "labelExpr": "datum.label=='im'?'i-Meph x10⁻²':datum.label=='ib'?'i-band x0.1':datum.label=='r'?'r-band':datum.label=='gm'?'g-Meph x10':datum.label=='gb'?'g-band x10²':'u-Meph x10⁴'"}}
    }
   },
   {
    "data": {"name": "comp"},
    "transform": [{"filter": "datum.c == 'PWN (leakage)'"}],
    "mark": {"type": "line", "strokeWidth": 1, "interpolate": "monotone"},
    "encoding": {
     "x": {"field": "t", "type": "quantitative", "scale": {"type": "log", "domain": [0.05, 100], "nice": false},
       "axis": {"orient": "bottom", "values": [0.1, 1, 10, 100], "labels": false, "ticks": true, "tickSize": -6, "domain": false, "grid": false, "title": null}},
     "y": {"field": "f", "type": "quantitative", "scale": {"type": "log", "domain": [1e-7, 10000], "nice": false},
       "axis": {"orient": "left", "values": [1e-7, 1e-6, 1e-5, 1e-4, 0.001, 0.01, 0.1, 1, 10, 100, 1000, 10000], "labels": false, "ticks": true, "tickSize": -6, "domain": false, "grid": false, "title": null}},
     "color": {"field": "b", "type": "nominal",
       "scale": {"domain": ["im", "ib", "r", "gm", "gb", "um"], "range": ["#ff2a80", "#ff22ff", "#ff0000", "#22ee22", "#007000", "#0000ff"]},
       "legend": {"orient": "none", "legendX": 102, "legendY": 223.5, "direction": "horizontal", "columns": 3, "title": null, "symbolType": "M-1,0H2.7", "symbolSize": 144, "symbolStrokeWidth": 1.5, "symbolFillColor": "transparent", "gridAlign": "all", "columnPadding": 3, "rowPadding": 1, "labelOffset": 15,
         "labelExpr": "datum.label=='im'?'i-Meph x10⁻²':datum.label=='ib'?'i-band x0.1':datum.label=='r'?'r-band':datum.label=='gm'?'g-Meph x10':datum.label=='gb'?'g-band x10²':'u-Meph x10⁴'"}},
     "strokeDash": {"field": "c", "type": "nominal",
       "scale": {"domain": ["PWN (leakage)", "Supernova"], "range": [[1, 1.5], [6, 2, 1.5, 2]]},
       "legend": {"orient": "none", "legendX": 12, "legendY": 5, "direction": "horizontal", "title": null, "symbolType": "stroke", "symbolSize": 484, "symbolStrokeWidth": 1, "symbolStrokeColor": "#0000ff", "gridAlign": "none", "columnPadding": 3, "labelOffset": 4}}
    }
   },
   {
    "data": {"name": "comp"},
    "transform": [{"filter": "datum.c == 'Supernova'"}],
    "mark": {"type": "line", "strokeWidth": 1.2, "interpolate": "monotone"},
    "encoding": {
     "x": {"field": "t", "type": "quantitative", "scale": {"type": "log", "domain": [0.05, 100], "nice": false},
       "axis": {"orient": "top", "values": [0.1, 1, 10, 100], "labels": false, "ticks": true, "tickSize": -6, "domain": false, "grid": false, "title": null}},
     "y": {"field": "f", "type": "quantitative", "scale": {"type": "log", "domain": [1e-7, 10000], "nice": false},
       "axis": {"orient": "right", "values": [1e-7, 1e-6, 1e-5, 1e-4, 0.001, 0.01, 0.1, 1, 10, 100, 1000, 10000], "labels": false, "ticks": true, "tickSize": -6, "domain": false, "grid": false, "title": null}},
     "color": {"field": "b", "type": "nominal",
       "scale": {"domain": ["im", "ib", "r", "gm", "gb", "um"], "range": ["#ff2a80", "#ff22ff", "#ff0000", "#22ee22", "#007000", "#0000ff"]},
       "legend": {"orient": "none", "legendX": 102, "legendY": 223.5, "direction": "horizontal", "columns": 3, "title": null, "symbolType": "M-1,0H2.7", "symbolSize": 144, "symbolStrokeWidth": 1.5, "symbolFillColor": "transparent", "gridAlign": "all", "columnPadding": 3, "rowPadding": 1, "labelOffset": 15,
         "labelExpr": "datum.label=='im'?'i-Meph x10⁻²':datum.label=='ib'?'i-band x0.1':datum.label=='r'?'r-band':datum.label=='gm'?'g-Meph x10':datum.label=='gb'?'g-band x10²':'u-Meph x10⁴'"}},
     "strokeDash": {"field": "c", "type": "nominal",
       "scale": {"domain": ["PWN (leakage)", "Supernova"], "range": [[1, 1.5], [6, 2, 1.5, 2]]},
       "legend": {"orient": "none", "legendX": 12, "legendY": 5, "direction": "horizontal", "title": null, "symbolType": "stroke", "symbolSize": 484, "symbolStrokeWidth": 1, "symbolStrokeColor": "#0000ff", "gridAlign": "none", "columnPadding": 3, "labelOffset": 4}}
    }
   },
   {
    "data": {"name": "det"},
    "mark": {"type": "point", "shape": "circle", "filled": true, "size": 55, "opacity": 1, "strokeWidth": 0},
    "encoding": {
     "x": {"field": "t", "type": "quantitative", "scale": {"type": "log", "domain": [0.05, 100], "nice": false},
       "axis": {"orient": "bottom", "values": [0.06,0.07,0.08,0.09,0.2,0.3,0.4,0.5,0.6,0.7,0.8,0.9,2,3,4,5,6,7,8,9,20,30,40,50,60,70,80,90], "labels": false, "ticks": true, "tickSize": -3, "domain": false, "grid": false, "title": null}},
     "y": {"field": "f", "type": "quantitative", "scale": {"type": "log", "domain": [1e-7, 10000], "nice": false},
       "axis": {"orient": "left", "values": [2e-7,3e-7,4e-7,5e-7,6e-7,7e-7,8e-7,9e-7,2e-6,3e-6,4e-6,5e-6,6e-6,7e-6,8e-6,9e-6,2e-5,3e-5,4e-5,5e-5,6e-5,7e-5,8e-5,9e-5,2e-4,3e-4,4e-4,5e-4,6e-4,7e-4,8e-4,9e-4,0.002,0.003,0.004,0.005,0.006,0.007,0.008,0.009,0.02,0.03,0.04,0.05,0.06,0.07,0.08,0.09,0.2,0.3,0.4,0.5,0.6,0.7,0.8,0.9,2,3,4,5,6,7,8,9,20,30,40,50,60,70,80,90,200,300,400,500,600,700,800,900,2000,3000,4000,5000,6000,7000,8000,9000], "labels": false, "ticks": true, "tickSize": -3, "domain": false, "grid": false, "title": null}},
     "fill": {"field": "b", "type": "nominal",
       "scale": {"domain": ["im", "ib", "r", "gm", "gb", "um"], "range": ["#ff2a80", "#ff22ff", "#ff0000", "#22ee22", "#007000", "#0000ff"]}, "legend": null}
    }
   },
   {
    "data": {"name": "ul"},
    "mark": {"type": "point", "shape": "triangle-down", "filled": true, "size": 50, "opacity": 1, "strokeWidth": 0},
    "encoding": {
     "x": {"field": "t", "type": "quantitative", "scale": {"type": "log", "domain": [0.05, 100], "nice": false},
       "axis": {"orient": "top", "values": [0.06,0.07,0.08,0.09,0.2,0.3,0.4,0.5,0.6,0.7,0.8,0.9,2,3,4,5,6,7,8,9,20,30,40,50,60,70,80,90], "labels": false, "ticks": true, "tickSize": -3, "domain": false, "grid": false, "title": null}},
     "y": {"field": "f", "type": "quantitative", "scale": {"type": "log", "domain": [1e-7, 10000], "nice": false},
       "axis": {"orient": "right", "values": [2e-7,3e-7,4e-7,5e-7,6e-7,7e-7,8e-7,9e-7,2e-6,3e-6,4e-6,5e-6,6e-6,7e-6,8e-6,9e-6,2e-5,3e-5,4e-5,5e-5,6e-5,7e-5,8e-5,9e-5,2e-4,3e-4,4e-4,5e-4,6e-4,7e-4,8e-4,9e-4,0.002,0.003,0.004,0.005,0.006,0.007,0.008,0.009,0.02,0.03,0.04,0.05,0.06,0.07,0.08,0.09,0.2,0.3,0.4,0.5,0.6,0.7,0.8,0.9,2,3,4,5,6,7,8,9,20,30,40,50,60,70,80,90,200,300,400,500,600,700,800,900,2000,3000,4000,5000,6000,7000,8000,9000], "labels": false, "ticks": true, "tickSize": -3, "domain": false, "grid": false, "title": null}},
     "fill": {"field": "b", "type": "nominal",
       "scale": {"domain": ["im", "ib", "r", "gm", "gb", "um"], "range": ["#ff2a80", "#ff22ff", "#ff0000", "#22ee22", "#007000", "#0000ff"]}, "legend": null}
    }
   }
  ]
 }
],
"config": {
 "view": {"stroke": "black", "strokeWidth": 1},
 "axis": {"labelFont": "Liberation Serif", "labelFontSize": 10, "labelColor": "black", "titleFont": "Liberation Serif", "titleFontSize": 11, "titleFontWeight": "normal", "titleColor": "black", "tickColor": "black", "tickWidth": 0.8},
 "legend": {"labelFont": "Liberation Serif", "labelFontSize": 9, "labelColor": "black", "padding": 0}
}
}
